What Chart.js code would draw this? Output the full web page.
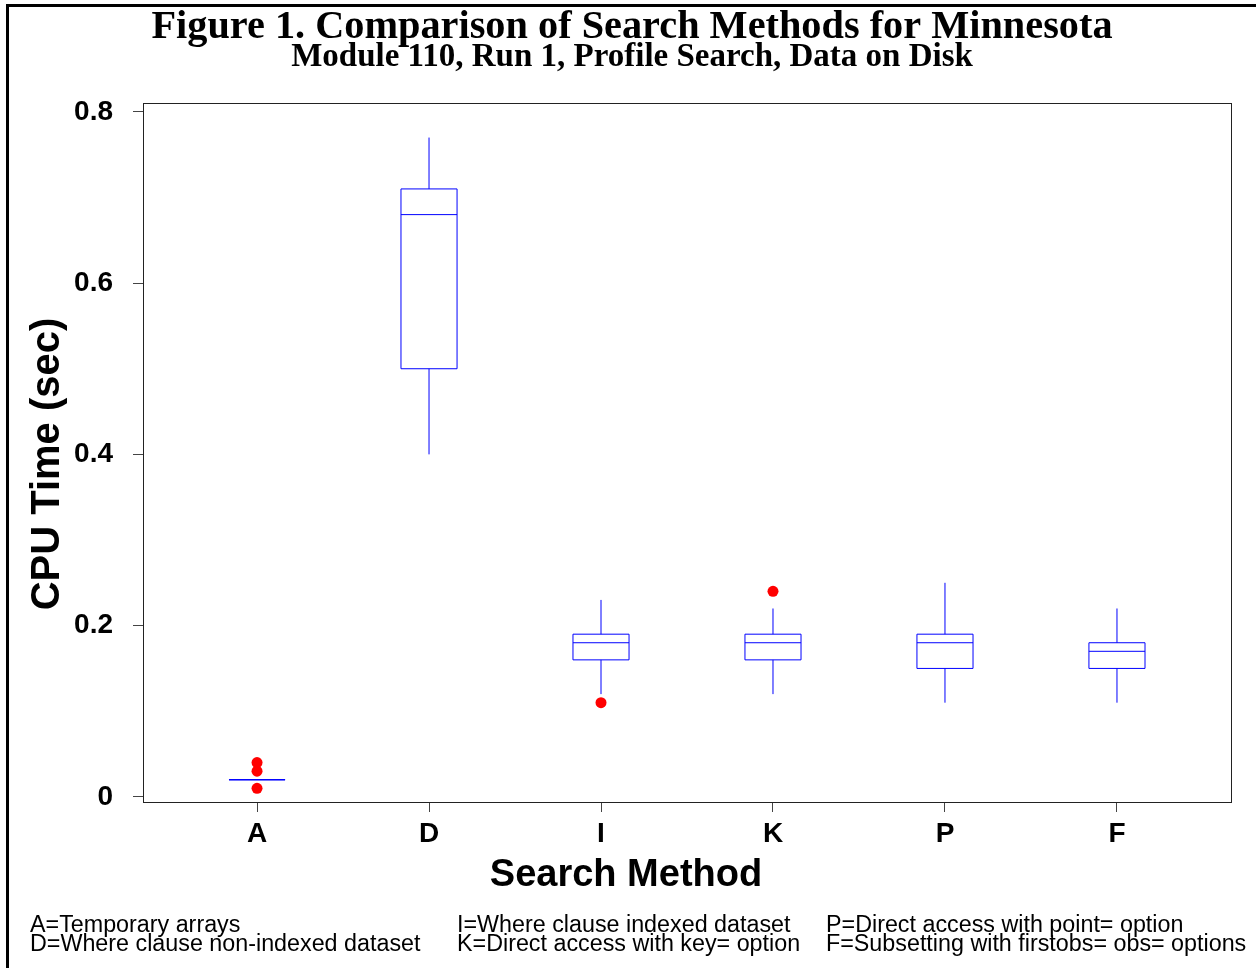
<!DOCTYPE html>
<html>
<head>
<meta charset="utf-8">
<script src="https://cdn.jsdelivr.net/npm/chart.js@4.4.1/dist/chart.umd.min.js"></script>
<style>
  html, body { margin: 0; padding: 0; background: #fff; }
  #wrap { position: relative; width: 1256px; height: 968px; overflow: hidden; }
  #frame { position: absolute; left: 6px; top: 4px; width: 1300px; height: 1000px;
           border-top: 3px solid #000; border-left: 3px solid #000; pointer-events: none; }
  canvas { position: absolute; left: 0; top: 0; }
</style>
</head>
<body>
<div id="wrap">
  <canvas id="c" width="1256" height="968"></canvas>
  <div id="frame"></div>
</div>
<script>
// ---- data ----
const categories  = ['A', 'D', 'I', 'K', 'P', 'F'];
const whiskerLow  = [0.02, 0.40, 0.12, 0.12, 0.11, 0.11];
const q1          = [0.02, 0.50, 0.16, 0.16, 0.15, 0.15];
const median      = [0.02, 0.68, 0.18, 0.18, 0.18, 0.17];
const q3          = [0.02, 0.71, 0.19, 0.19, 0.19, 0.18];
const whiskerHigh = [0.02, 0.77, 0.23, 0.22, 0.25, 0.22];
const outliers    = [[0.01, 0.03, 0.04], [], [0.11], [0.24], [], []];
const yTickValues = [0, 0.2, 0.4, 0.6, 0.8];
const yTickLabels = ['0', '0.2', '0.4', '0.6', '0.8'];
const titleText    = 'Figure 1. Comparison of Search Methods for Minnesota';
const subtitleText = 'Module 110, Run 1, Profile Search, Data on Disk';
const xTitleText   = 'Search Method';
const yTitleText   = 'CPU Time (sec)';
const footnoteCols = [
  ['A=Temporary arrays', 'D=Where clause non-indexed dataset'],
  ['I=Where clause indexed dataset', 'K=Direct access with key= option'],
  ['P=Direct access with point= option', 'F=Subsetting with firstobs= obs= options']
];

// ---- style constants ----
const HALF = 0.163;           // half box width in category units
const BLUE = '#0000ff';
const GAP = {x: null, y: null};
const SANS = '"Liberation Sans", Arial, sans-serif';
const SERIF = '"Liberation Serif", "Times New Roman", serif';

const boxPts = [], medPts = [], whiskPts = [], outPts = [];
categories.forEach((c, i) => {
  boxPts.push({x: i - HALF, y: q1[i]}, {x: i + HALF, y: q1[i]}, {x: i + HALF, y: q3[i]},
              {x: i - HALF, y: q3[i]}, {x: i - HALF, y: q1[i]}, GAP);
  medPts.push({x: i - HALF, y: median[i]}, {x: i + HALF, y: median[i]}, GAP);
  whiskPts.push({x: i, y: q3[i]}, {x: i, y: whiskerHigh[i]}, GAP,
                {x: i, y: q1[i]}, {x: i, y: whiskerLow[i]}, GAP);
  outliers[i].forEach(v => outPts.push({x: i, y: v}));
});

const frameAndNotes = {
  id: 'frameAndNotes',
  beforeDatasetsDraw(chart) {
    const {ctx, chartArea: a} = chart;
    ctx.save();
    ctx.strokeStyle = '#222';
    ctx.lineWidth = 1;
    ctx.strokeRect(Math.round(a.left) + 0.5, Math.round(a.top) + 0.5,
                   Math.round(a.right - a.left), Math.round(a.bottom - a.top));
    ctx.restore();
  },
  afterDraw(chart) {
    const ctx = chart.ctx;
    ctx.save();
    ctx.fillStyle = '#000';
    // axis titles (centred on the page as in the original layout)
    ctx.font = 'bold 38px ' + SANS;
    ctx.textAlign = 'center';
    ctx.textBaseline = 'middle';
    ctx.fillText(xTitleText, 626, 876);
    ctx.save();
    ctx.translate(48, 464);
    ctx.rotate(-Math.PI / 2);
    ctx.font = 'bold 40px ' + SANS;
    ctx.fillText(yTitleText, 0, 0);
    ctx.restore();
    // footnotes
    ctx.font = '23.3px ' + SANS;
    ctx.textBaseline = 'alphabetic';
    ctx.textAlign = 'left';
    const colX = [30, 457, 826];
    const rowY = [932, 951];
    footnoteCols.forEach((col, ci) => col.forEach((t, ri) => ctx.fillText(t, colX[ci], rowY[ri])));
    ctx.restore();
  }
};

const lineStyle = {showLine: true, borderColor: BLUE, borderWidth: 1, borderDash: [100000, 0],
                   pointRadius: 0, fill: false, spanGaps: false};

new Chart(document.getElementById('c'), {
  type: 'scatter',
  data: {
    datasets: [
      Object.assign({label: 'box', data: boxPts}, lineStyle),
      Object.assign({label: 'median', data: medPts}, lineStyle),
      Object.assign({label: 'whisker', data: whiskPts}, lineStyle),
      {label: 'outlier', data: outPts, showLine: false, pointRadius: 5.5,
       pointBackgroundColor: '#ff0000', pointBorderColor: '#ff0000', pointBorderWidth: 0}
    ]
  },
  options: {
    responsive: false,
    animation: false,
    events: [],
    layout: {padding: {left: 33, right: 25, top: 0, bottom: 66}},
    plugins: {
      legend: {display: false},
      tooltip: {enabled: false},
      title: {
        display: true, text: titleText, color: '#000',
        font: {family: SERIF, size: 40.3, weight: 'bold', lineHeight: 1},
        padding: {top: 7, bottom: 0}
      },
      subtitle: {
        display: true, text: subtitleText, color: '#000',
        font: {family: SERIF, size: 33, weight: 'bold', lineHeight: 1},
        padding: {top: -6, bottom: 29}
      }
    },
    scales: {
      x: {
        type: 'linear', min: -0.663, max: 5.663,
        afterBuildTicks: s => { s.ticks = categories.map((c, i) => ({value: i})); },
        afterFit: s => { s.height = 100; },
        grid: {display: true, drawOnChartArea: false, drawTicks: true, tickLength: 10, tickColor: '#444'},
        border: {display: false},
        ticks: {
          color: '#000', padding: 5, maxRotation: 0, autoSkip: false,
          font: {family: SANS, size: 28, weight: 'bold'},
          callback: v => categories[Math.round(v)]
        },
        title: {display: false, text: xTitleText}
      },
      y: {
        type: 'linear', min: -0.006, max: 0.81,
        afterBuildTicks: s => { s.ticks = yTickValues.map(v => ({value: v})); },
        afterFit: s => { s.width = 110; },
        grid: {display: true, drawOnChartArea: false, drawTicks: true, tickLength: 10, tickColor: '#444'},
        border: {display: false},
        ticks: {
          color: '#000', padding: 20, autoSkip: false,
          font: {family: SANS, size: 28, weight: 'bold'},
          callback: v => yTickLabels[yTickValues.findIndex(t => Math.abs(t - v) < 1e-9)]
        },
        title: {display: false, text: yTitleText}
      }
    }
  },
  plugins: [frameAndNotes]
});
</script>
</body>
</html>
